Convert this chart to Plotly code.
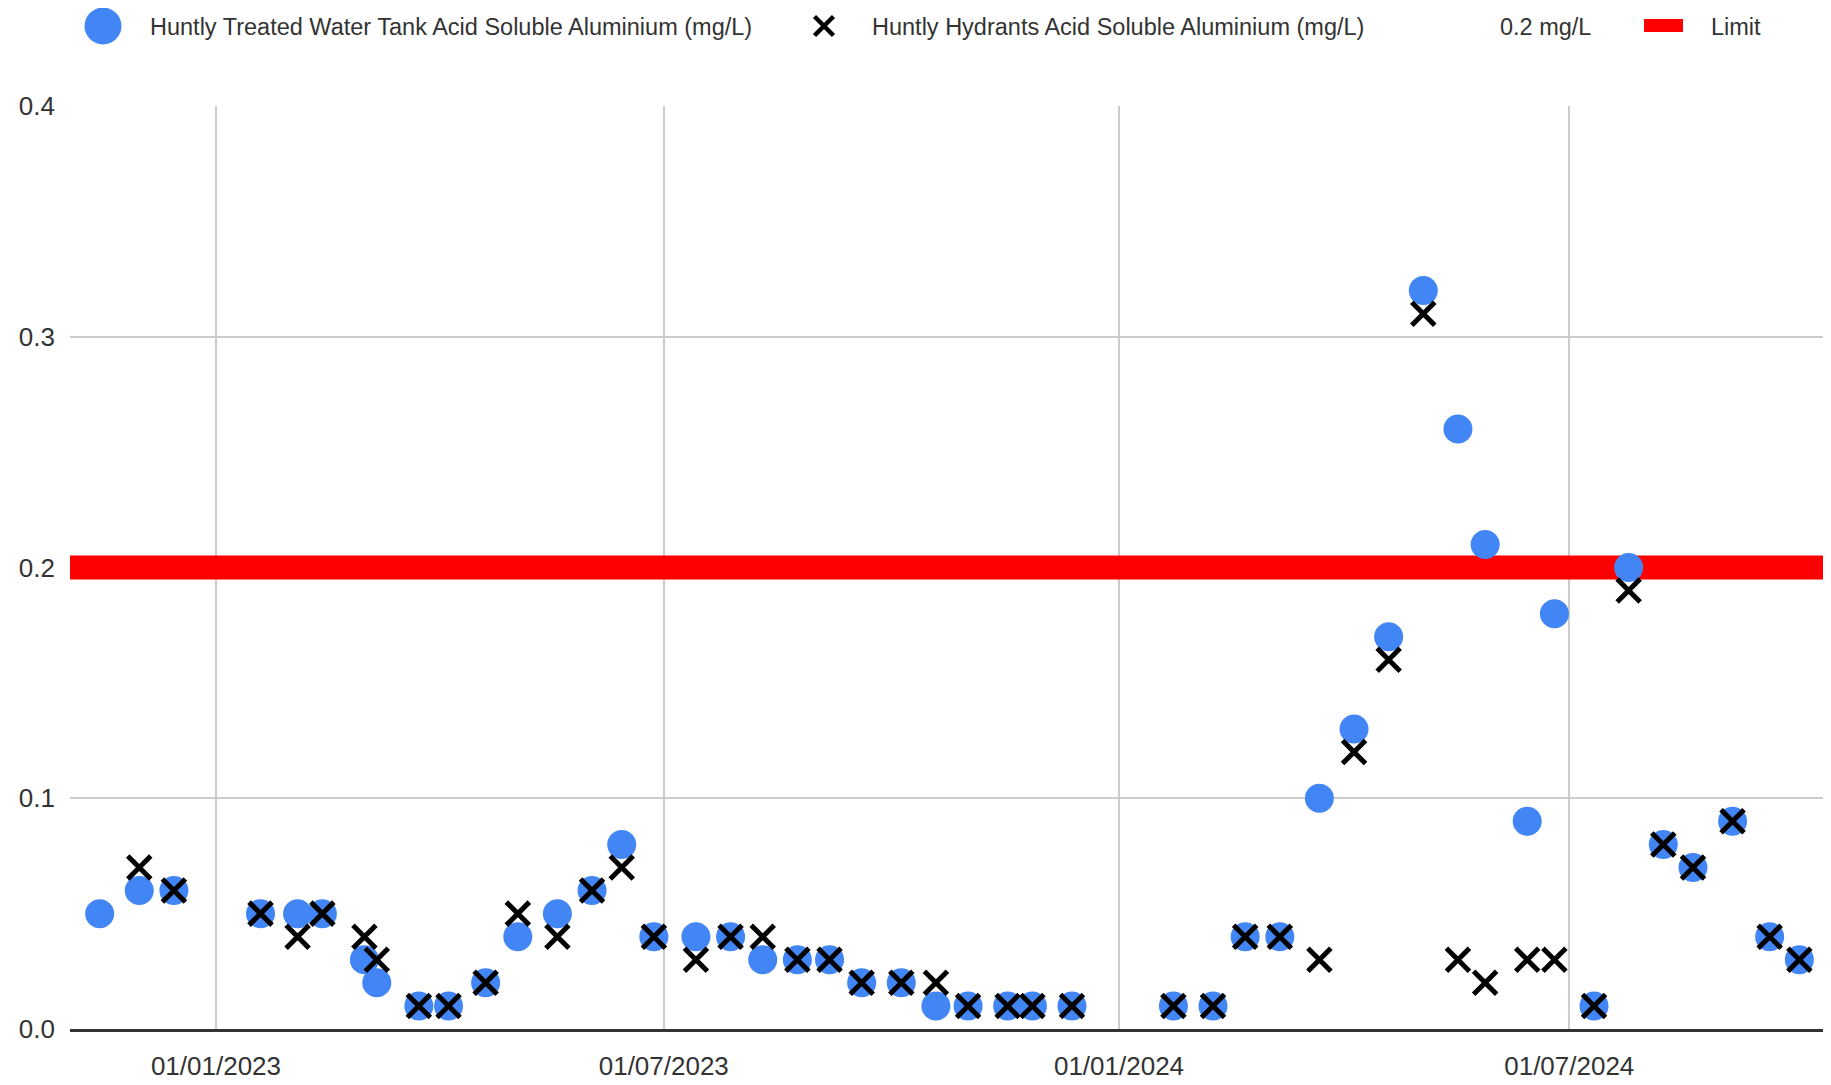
import plotly.graph_objects as go

# ---------------- data ----------------
sample_dates = [
    "2022-11-15", "2022-12-01", "2022-12-15",
    "2023-01-19", "2023-02-03", "2023-02-13", "2023-03-02", "2023-03-07",
    "2023-03-24", "2023-04-05", "2023-04-20", "2023-05-03", "2023-05-19",
    "2023-06-02", "2023-06-14", "2023-06-27", "2023-07-14", "2023-07-28",
    "2023-08-10", "2023-08-24", "2023-09-06", "2023-09-19", "2023-10-05",
    "2023-10-19", "2023-11-01", "2023-11-17", "2023-11-27", "2023-12-13",
    "2024-01-23", "2024-02-08", "2024-02-21", "2024-03-06", "2024-03-22",
    "2024-04-05", "2024-04-19", "2024-05-03", "2024-05-17", "2024-05-28",
    "2024-06-14", "2024-06-25", "2024-07-11", "2024-07-25", "2024-08-08",
    "2024-08-20", "2024-09-05", "2024-09-20", "2024-10-02",
]
tank_aluminium = [
    0.05, 0.06, 0.06,
    0.05, 0.05, 0.05, 0.03, 0.02,
    0.01, 0.01, 0.02, 0.04, 0.05,
    0.06, 0.08, 0.04, 0.04, 0.04,
    0.03, 0.03, 0.03, 0.02, 0.02,
    0.01, 0.01, 0.01, 0.01, 0.01,
    0.01, 0.01, 0.04, 0.04, 0.10,
    0.13, 0.17, 0.32, 0.26, 0.21,
    0.09, 0.18, 0.01, 0.20, 0.08,
    0.07, 0.09, 0.04, 0.03,
]
hydrants_aluminium = [
    None, 0.07, 0.06,
    0.05, 0.04, 0.05, 0.04, 0.03,
    0.01, 0.01, 0.02, 0.05, 0.04,
    0.06, 0.07, 0.04, 0.03, 0.04,
    0.04, 0.03, 0.03, 0.02, 0.02,
    0.02, 0.01, 0.01, 0.01, 0.01,
    0.01, 0.01, 0.04, 0.04, 0.03,
    0.12, 0.16, 0.31, 0.03, 0.02,
    0.03, 0.03, 0.01, 0.19, 0.08,
    0.07, 0.09, 0.04, 0.03,
]
limit_value = 0.2
x_range = ["2022-11-03", "2024-10-14 19:00"]
x_tick_vals = ["2023-01-01", "2023-07-01", "2024-01-01", "2024-07-01"]
x_tick_text = ["01/01/2023", "01/07/2023", "01/01/2024", "01/07/2024"]
y_tick_vals = [0.0, 0.1, 0.2, 0.3, 0.4]
y_tick_text = ["0.0", "0.1", "0.2", "0.3", "0.4"]

name_tank = "Huntly Treated Water Tank Acid Soluble Aluminium (mg/L)"
name_hydr = "Huntly Hydrants Acid Soluble Aluminium (mg/L)"
name_unit = "0.2 mg/L"
name_limit = "Limit"

# ---------------- styling / layout ----------------
# the page body adds an 8px offset, so the figure is laid out 8px up/left
W, H = 1823, 1077
PL, PR, PT, PB = 62, 1823, 98, 1021
LEG_H = 80  # height of the legend strip at the top (px)
FONT = "Liberation Sans, Arial, sans-serif"
BLUE = "#4285F4"
TXT = "#333333"

plot_h = PB  # top margin 0, bottom margin H-PB
main_top = (PB - PT) / plot_h
leg_bottom = 1 - LEG_H / plot_h

fig = go.Figure()

# limit line (under markers)
fig.add_trace(go.Scatter(
    x=x_range, y=[limit_value, limit_value], mode="lines",
    line=dict(color="#FF0000", width=24), name=name_limit,
    showlegend=False, hoverinfo="skip",
))
fig.add_trace(go.Scatter(
    x=sample_dates, y=tank_aluminium, mode="markers", name=name_tank,
    marker=dict(symbol="circle", size=29, color=BLUE, line=dict(width=0)),
    cliponaxis=False, showlegend=False,
))
fig.add_trace(go.Scatter(
    x=sample_dates, y=hydrants_aluminium, mode="markers", name=name_hydr,
    marker=dict(symbol="x-thin", size=23, color="black",
                line=dict(width=5, color="black")),
    cliponaxis=False, showlegend=False,
))

# legend strip: its own pixel-mapped axes at the top of the figure
fig.add_trace(go.Scatter(
    x=[95], y=[18], xaxis="x2", yaxis="y2", mode="markers",
    marker=dict(symbol="circle", size=37, color=BLUE),
    cliponaxis=False, showlegend=False, hoverinfo="skip",
))
fig.add_trace(go.Scatter(
    x=[816], y=[18], xaxis="x2", yaxis="y2", mode="markers",
    marker=dict(symbol="x-thin", size=19, color="black",
                line=dict(width=4.5, color="black")),
    cliponaxis=False, showlegend=False, hoverinfo="skip",
))
fig.add_shape(type="rect", xref="x2", yref="y2",
              x0=1636, x1=1675, y0=11, y1=24,
              fillcolor="#FF0000", line=dict(width=0))

legend_font = dict(family=FONT, size=23.5, color=TXT)
for label, xpx in [(name_tank, 140), (name_hydr, 862), (name_unit, 1490), (name_limit, 1701)]:
    fig.add_annotation(text=label, x=xpx, y=19, xref="x2", yref="y2",
                       xanchor="left", yanchor="middle", showarrow=False,
                       font=legend_font)

fig.update_layout(
    width=W, height=H,
    margin=dict(l=PL, r=W - PR, t=0, b=H - PB, pad=0),
    paper_bgcolor="white", plot_bgcolor="white",
    showlegend=False,
    font=dict(family=FONT, color=TXT),
    xaxis=dict(
        type="date", range=x_range, tickvals=x_tick_vals, ticktext=x_tick_text,
        showgrid=True, gridcolor="#CCCCCC", gridwidth=2,
        showline=True, linecolor="#333333", linewidth=3,
        zeroline=False, ticks="", ticklabelstandoff=12,
        tickfont=dict(family=FONT, size=26, color=TXT),
        automargin=False, fixedrange=True, anchor="y",
    ),
    yaxis=dict(
        domain=[0, main_top],
        range=[0, 0.4], tickvals=y_tick_vals, ticktext=y_tick_text,
        showgrid=True, gridcolor="#CCCCCC", gridwidth=2,
        zeroline=False, showline=False, ticks="", ticklabelstandoff=14,
        tickfont=dict(family=FONT, size=26, color=TXT),
        automargin=False, fixedrange=True, anchor="x",
    ),
    xaxis2=dict(domain=[0, 1], range=[PL, PR], anchor="y2", visible=False,
                showgrid=False, fixedrange=True),
    yaxis2=dict(domain=[leg_bottom, 1], range=[LEG_H, 0], anchor="x2", visible=False,
                showgrid=False, fixedrange=True),
)

fig.write_html("out.html")
